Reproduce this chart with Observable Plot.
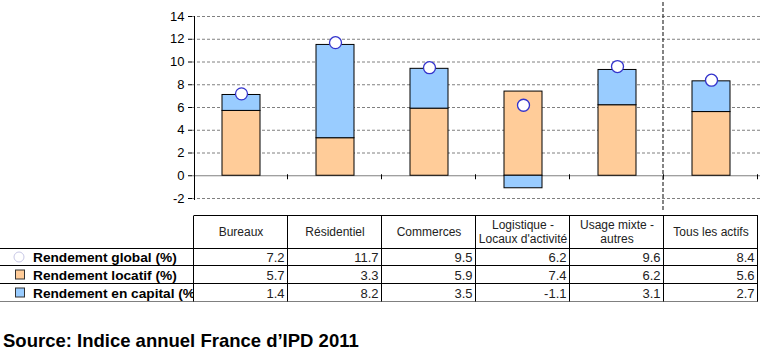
<!DOCTYPE html>
<html>
<head>
<meta charset="utf-8">
<script src="https://cdn.jsdelivr.net/npm/d3@7"></script>
<script src="https://cdn.jsdelivr.net/npm/@observablehq/plot@0.6"></script>
<style>
  html, body { margin: 0; padding: 0; background: #fff; }
  #wrap { position: relative; width: 770px; height: 353px; font-family: "Liberation Sans", Arial, sans-serif; }
  #overlay { position: absolute; left: 0; top: 0; pointer-events: none; }
</style>
</head>
<body>
<div id="wrap"></div>
<script>
// ---- data ----
const categories = ["Bureaux", "Résidentiel", "Commerces", "Logistique - Locaux d'activité", "Usage mixte - autres", "Tous les actifs"];
const headerLines = [["Bureaux"], ["Résidentiel"], ["Commerces"], ["Logistique -", "Locaux d'activité"], ["Usage mixte -", "autres"], ["Tous les actifs"]];
const rendementGlobal = [7.2, 11.7, 9.5, 6.2, 9.6, 8.4];
const rendementLocatif = [5.7, 3.3, 5.9, 7.4, 6.2, 5.6];
const rendementCapital = [1.4, 8.2, 3.5, -1.1, 3.1, 2.7];
const seriesLabels = ["Rendement global (%)", "Rendement locatif (%)", "Rendement en capital (%)"];
const yTicks = [-2, 0, 2, 4, 6, 8, 10, 12, 14];
const sourceText = "Source: Indice annuel France d\u2019IPD 2011";

const ORANGE = "#FFCC99", BLUE = "#99CCFF";

const stackRows = categories.flatMap((c, i) => [
  {cat: c, series: "locatif", v: rendementLocatif[i]},
  {cat: c, series: "capital", v: rendementCapital[i]}
]);
const globalRows = categories.map((c, i) => ({cat: c, v: rendementGlobal[i]}));

const plot = Plot.plot({
  width: 770,
  height: 215,
  marginLeft: 192,
  marginRight: 10,
  marginTop: 16,
  marginBottom: 17,
  style: {fontFamily: "'Liberation Sans', Arial, sans-serif", background: "transparent"},
  x: {domain: categories, paddingInner: 0.6, paddingOuter: 0.3, axis: null},
  y: {domain: [-2, 14], axis: null},
  color: {domain: ["locatif", "capital"], range: [ORANGE, BLUE]},
  marks: [
    Plot.ruleY(yTicks.filter(d => d !== 0), {stroke: "#808080", strokeDasharray: "3,2", strokeWidth: 1}),
    Plot.ruleY([0], {stroke: "#808080", strokeWidth: 1}),
    Plot.barY(stackRows, {x: "cat", y: "v", fill: "series", stroke: "#000", strokeWidth: 1, order: ["locatif", "capital"]}),
    Plot.dot(globalRows, {x: "cat", y: "v", r: 6, fill: "white", stroke: "#3333CC", strokeWidth: 1.3}),
    Plot.axisY({ticks: yTicks, tickSize: 4, tickPadding: 4, fontSize: 13, color: "#000", label: null, tickFormat: d => String(d)})
  ]
});
const wrap = document.getElementById("wrap");
wrap.appendChild(plot);

// ---- overlay: axis line, separators, data table, source ----
const xs = plot.scale("x");
const ys = plot.scale("y");
const step = xs.step, bw = xs.bandwidth;
const bounds = categories.map(c => xs.apply(c) - (step - bw) / 2);
bounds.push(bounds[bounds.length - 1] + step);
const b0 = bounds[0], bEnd = bounds[bounds.length - 1];
const y0 = ys.apply(0), yTop = ys.apply(14), yBot = ys.apply(-2);

const svg = d3.select(wrap).append("svg")
  .attr("id", "overlay").attr("width", 770).attr("height", 353)
  .style("font-family", "'Liberation Sans', Arial, sans-serif");

// y axis line
svg.append("line").attr("x1", b0 + 0.5).attr("x2", b0 + 0.5).attr("y1", yTop).attr("y2", yBot + 2).attr("stroke", "#000");
// category ticks on zero line
bounds.slice(1).forEach(b => {
  svg.append("line").attr("x1", b - 0.5).attr("x2", b - 0.5).attr("y1", y0 - 1).attr("y2", y0 + 4).attr("stroke", "#000");
});
// dashed divider before "Tous les actifs"
const bDiv = bounds[5];
svg.append("line").attr("x1", bDiv - 1).attr("x2", bDiv - 1).attr("y1", 2).attr("y2", 212)
  .attr("stroke", "#333").attr("stroke-dasharray", "4,2").attr("stroke-width", 1.2);

// table
const tTop = 215.5, rowLines = [248.5, 265.5, 283.5, 301.5];
svg.append("line").attr("x1", b0).attr("x2", bEnd).attr("y1", tTop).attr("y2", tTop).attr("stroke", "#000");
rowLines.forEach((yy, i) => {
  svg.append("line").attr("x1", 0).attr("x2", bEnd).attr("y1", yy).attr("y2", yy)
    .attr("stroke", i === rowLines.length - 1 ? "#808080" : "#000");
});
bounds.forEach(b => {
  svg.append("line").attr("x1", b - 0.5).attr("x2", b - 0.5).attr("y1", tTop).attr("y2", rowLines[3]).attr("stroke", "#000");
});
// header labels
headerLines.forEach((lines, i) => {
  const cx = (bounds[i] + bounds[i + 1]) / 2;
  const t = svg.append("text").attr("text-anchor", "middle").attr("font-size", 12).attr("fill", "#222");
  if (lines.length === 1) {
    t.append("tspan").attr("x", cx).attr("y", 235.5).text(lines[0]);
  } else {
    t.append("tspan").attr("x", cx).attr("y", 229).text(lines[0]);
    t.append("tspan").attr("x", cx).attr("y", 243).text(lines[1]);
  }
});
// values
const tableSeries = [rendementGlobal, rendementLocatif, rendementCapital];
tableSeries.forEach((vals, r) => {
  const cy = (rowLines[r] + rowLines[r + 1]) / 2;
  vals.forEach((v, i) => {
    svg.append("text").attr("x", bounds[i + 1] - 3.5).attr("y", cy + 5).attr("text-anchor", "end")
      .attr("font-size", 13).attr("fill", "#222").text(v.toFixed(1));
  });
});
// legend column
svg.append("clipPath").attr("id", "legclip").append("rect").attr("x", 0).attr("y", 240).attr("width", b0 - 1).attr("height", 70);
const leg = svg.append("g").attr("clip-path", "url(#legclip)");
seriesLabels.forEach((lab, r) => {
  const cy = (rowLines[r] + rowLines[r + 1]) / 2;
  if (r === 0) {
    leg.append("circle").attr("cx", 19).attr("cy", cy).attr("r", 5).attr("fill", "#fff").attr("stroke", "#C8C8E6");
  } else {
    leg.append("rect").attr("x", 15.5).attr("y", cy - 4.5).attr("width", 9).attr("height", 9)
      .attr("fill", r === 1 ? ORANGE : BLUE).attr("stroke", "#333");
  }
  leg.append("text").attr("x", 33).attr("y", cy + 5).attr("font-size", 13.7).attr("font-weight", "bold")
    .attr("fill", "#000").text(lab);
});
// source
svg.append("text").attr("x", 3).attr("y", 347).attr("font-size", 18.5).attr("font-weight", "bold").attr("fill", "#000").text(sourceText);
</script>
</body>
</html>
